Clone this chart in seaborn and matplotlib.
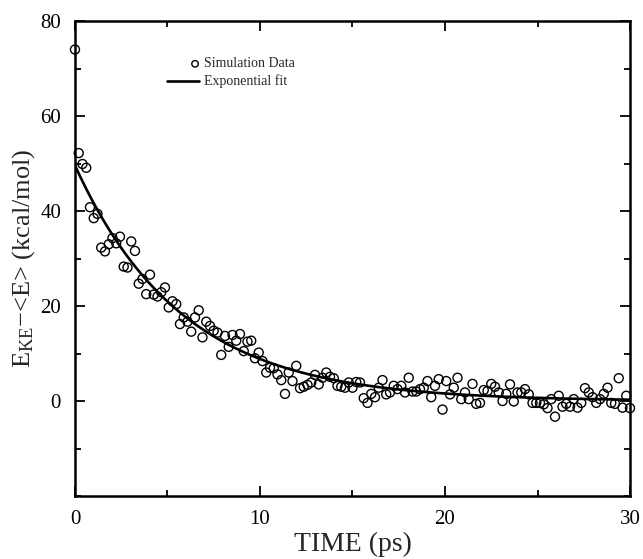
import numpy as np
import pandas as pd
import matplotlib
matplotlib.use("Agg")
import matplotlib.pyplot as plt
import seaborn as sns
from matplotlib.legend_handler import HandlerPathCollection
from matplotlib.ticker import MultipleLocator

# simulation data, E_KE - <E> in kcal/mol
energy = [
    74.0, 52.2, 49.9, 49.1, 40.8, 38.5, 39.4, 32.3, 31.5, 33.0,
    34.3, 33.2, 34.6, 28.3, 28.1, 33.6, 31.6, 24.7, 25.7, 22.5,
    26.6, 22.4, 22.0, 22.9, 23.9, 19.7, 21.0, 20.4, 16.2, 17.6,
    16.7, 14.6, 17.6, 19.1, 13.4, 16.7, 15.8, 14.8, 14.4, 9.7,
    13.7, 11.4, 13.9, 12.7, 14.1, 10.5, 12.5, 12.7, 9.0, 10.2,
    8.4, 6.0, 7.0, 6.9, 5.6, 4.4, 1.5, 6.0, 4.2, 7.4,
    2.7, 3.0, 3.4, 3.9, 5.5, 3.5, 4.9, 6.0, 5.1, 4.8,
    3.2, 3.0, 2.8, 3.9, 2.8, 4.0, 3.9, 0.6, -0.4, 1.5,
    0.8, 2.8, 4.4, 1.4, 1.8, 3.2, 2.5, 3.2, 1.8, 4.9,
    2.0, 2.0, 2.5, 2.8, 4.2, 0.8, 3.2, 4.6, -1.8, 4.2,
    1.4, 2.8, 4.9, 0.4, 1.8, 0.4, 3.6, -0.6, -0.4, 2.3,
    2.1, 3.6, 3.0, 1.8, 0.0, 1.5, 3.5, -0.1, 1.8, 1.8,
    2.5, 1.4, -0.4, -0.4, -0.4, -0.7, -1.5, 0.4, -3.3, 1.1,
    -1.2, -0.6, -1.2, 0.4, -1.4, -0.4, 2.7, 1.8, 0.8, -0.4,
    0.4, 1.5, 2.8, -0.4, -0.6, 4.8, -1.4, 1.1, -1.5,
]
# samples are evenly spaced from 0 to 30 ps
time_ps = np.linspace(0, 30, len(energy))

# exponential fit parameters
fit_amp = 49.6
fit_tau = 5.8
fit_offset = 0.0
fit_t = np.linspace(0, 30, 300)
fit_e = fit_amp * np.exp(-fit_t / fit_tau) + fit_offset

df = pd.DataFrame({"time": time_ps, "energy": energy})
df_fit = pd.DataFrame({"time": fit_t, "energy": fit_e})

sns.set_style("ticks")
plt.rcParams["font.family"] = ["Liberation Serif", "DejaVu Serif"]
plt.rcParams["mathtext.fontset"] = "custom"
plt.rcParams["mathtext.rm"] = "Liberation Serif"
plt.rcParams["mathtext.it"] = "Liberation Serif:italic"


class RightMarkerHandler(HandlerPathCollection):
    # put the legend circle at the right end of the handle box
    def get_xdata(self, legend, xdescent, ydescent, width, height, fontsize):
        x = -xdescent + width - 0.25 * fontsize
        return [x], [x]


fig = plt.figure(figsize=(6.43, 5.59), dpi=100)
ax = fig.add_axes([0.1166, 0.1127, 0.8632, 0.8497])

sns.scatterplot(data=df, x="time", y="energy", ax=ax, marker="o",
                s=42, facecolors="none", edgecolor="black",
                linewidth=1.0, label="Simulation Data", clip_on=False,
                zorder=3)
sns.lineplot(data=df_fit, x="time", y="energy", ax=ax, color="black",
             linewidth=1.9, label="Exponential fit")

ax.set_xlim(0, 30)
ax.set_ylim(-20, 80)
ax.xaxis.set_major_locator(MultipleLocator(10))
ax.xaxis.set_minor_locator(MultipleLocator(5))
ax.set_yticks([0, 20, 40, 60, 80])
ax.yaxis.set_minor_locator(MultipleLocator(10))
ax.tick_params(which="both", direction="in", top=True, right=True,
               width=1.3, colors="black")
ax.tick_params(which="major", length=7, labelsize=15, pad=10)
ax.tick_params(axis="x", which="major", pad=10)
ax.tick_params(which="minor", length=4)
for s in ax.spines.values():
    s.set_linewidth(1.8)
    s.set_color("black")

ax.set_xlabel("TIME (ps)", fontsize=20, labelpad=2)
ax.set_ylabel(r"E$_{\mathrm{KE}}$−<E> (kcal/mol)", fontsize=19, labelpad=2)

handles, labels = ax.get_legend_handles_labels()
ax.legend(handles, labels, loc="upper left", bbox_to_anchor=(0.155, 0.935),
          frameon=False, fontsize=10, handlelength=2.3, handletextpad=0.4,
          labelspacing=0.3, borderaxespad=0,
          handler_map={type(handles[0]): RightMarkerHandler(sizes=[22])})

fig.savefig("out.png", dpi=100)
